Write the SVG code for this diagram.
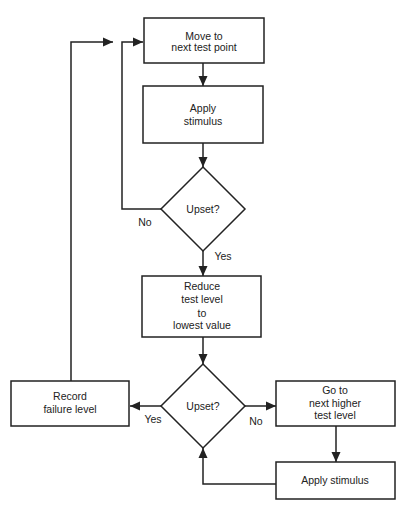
<svg xmlns="http://www.w3.org/2000/svg" width="420" height="509" viewBox="0 0 420 509">
<style>
.box{fill:#fff;stroke:#222;stroke-width:1.5}
.ln{fill:none;stroke:#222;stroke-width:1.5}
text{font-family:"Liberation Sans",Arial,sans-serif;font-size:10.5px;fill:#222;text-anchor:middle}
</style>
<defs>
<marker id="ah" markerUnits="userSpaceOnUse" markerWidth="10" markerHeight="10" viewBox="0 0 10 10" refX="10" refY="5" orient="auto">
<path d="M0,0.5 L10,5 L0,9.5 Z" fill="#222"/>
</marker>
</defs>
<rect width="420" height="509" fill="#fff"/>
<g id="connectors">
<line class="ln" x1="203" y1="63" x2="203" y2="86" marker-end="url(#ah)"/>
<line class="ln" x1="203" y1="143" x2="203" y2="167" marker-end="url(#ah)"/>
<line class="ln" x1="203" y1="251" x2="203" y2="276" marker-end="url(#ah)"/>
<line class="ln" x1="203" y1="337" x2="203" y2="364" marker-end="url(#ah)"/>
<polyline class="ln" points="161,209 122,209 122,42 143,42" marker-end="url(#ah)"/>
<polyline class="ln" points="71,381 71,42 113,42" marker-end="url(#ah)"/>
<line class="ln" x1="161" y1="406" x2="130" y2="406" marker-end="url(#ah)"/>
<line class="ln" x1="245" y1="406" x2="276" y2="406" marker-end="url(#ah)"/>
<line class="ln" x1="336" y1="426" x2="336" y2="462" marker-end="url(#ah)"/>
<polyline class="ln" points="276,484 203,484 203,448" marker-end="url(#ah)"/>
<text x="145" y="226">No</text>
<text x="223" y="260">Yes</text>
<text x="153" y="423">Yes</text>
<text x="256" y="425">No</text>
</g>
<g id="move">
<rect class="box" x="144" y="18" width="120" height="45"/>
<text x="204" y="40">Move to</text>
<text x="204" y="51">next test point</text>
</g>
<g id="apply1">
<rect class="box" x="143" y="86" width="120" height="57"/>
<text x="203" y="112">Apply</text>
<text x="203" y="125">stimulus</text>
</g>
<g id="upset1">
<polygon class="box" points="203,167 245,209 203,251 161,209"/>
<text x="203" y="213">Upset?</text>
</g>
<g id="reduce">
<rect class="box" x="142" y="276" width="119" height="61"/>
<text x="202" y="290">Reduce</text>
<text x="202" y="303">test level</text>
<text x="202" y="317">to</text>
<text x="202" y="329">lowest value</text>
</g>
<g id="upset2">
<polygon class="box" points="203,364 245,406 203,448 161,406"/>
<text x="203" y="410">Upset?</text>
</g>
<g id="record">
<rect class="box" x="11" y="381" width="118" height="45"/>
<text x="70" y="400">Record</text>
<text x="70" y="413">failure level</text>
</g>
<g id="goto">
<rect class="box" x="276" y="381" width="119" height="45"/>
<text x="335" y="394">Go to</text>
<text x="335" y="407">next higher</text>
<text x="335" y="419">test level</text>
</g>
<g id="apply2">
<rect class="box" x="276" y="462" width="119" height="37"/>
<text x="335" y="484">Apply stimulus</text>
</g>
</svg>
